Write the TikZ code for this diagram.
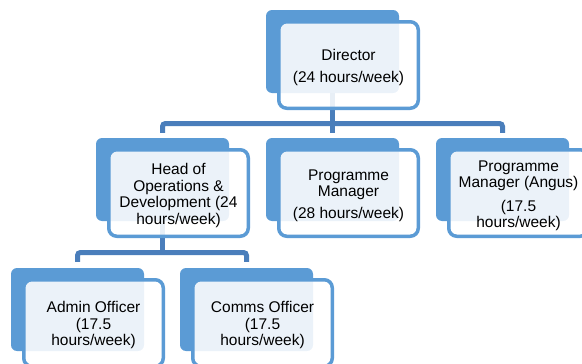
\documentclass[tikz,border=0pt]{standalone}
\usepackage{fontspec}
\setmainfont{Liberation Sans}
\definecolor{boxblue}{HTML}{5B9BD5}
\definecolor{connblue}{HTML}{4A7EBB}
\newcommand{\boxtext}[1]{\raisebox{-3pt}[\height][\depth]{\begin{tabular}{@{}c@{}}#1\end{tabular}}}
\tikzset{
  backbox/.style={rectangle, draw=none, fill=boxblue, rounded corners=6pt,
    minimum width=133pt, minimum height=83pt, inner sep=0pt},
  frontbox/.style={rectangle, draw=boxblue, line width=3.5pt, fill=white,
    fill opacity=0.88, text opacity=1, rounded corners=8pt,
    minimum width=139.5pt, minimum height=86.5pt, inner sep=0pt,
    font=\fontsize{15.5}{16.5}\selectfont},
  conn/.style={draw=connblue, line width=5pt}
}
\begin{document}
\begin{tikzpicture}[x=1pt,y=-1pt]
\useasboundingbox (0,0) rectangle (582,364);
% back boxes
\node[backbox] (dirB)  at (332.5,51.5) {};
\node[backbox] (headB) at (162.5,179.5) {};
\node[backbox] (pmB)   at (332.5,179.5) {};
\node[backbox] (angB)  at (502.5,179.5) {};
\node[backbox] (admB)  at (77.5,309.5) {};
\node[backbox] (comB)  at (246.5,309.5) {};
% connectors
\coordinate (h1) at (332.5,123.5);
\coordinate (h2) at (162.5,252.5);
\draw[conn] (dirB.south) -- ([yshift=5pt]pmB.north);
\draw[conn, rounded corners=3pt] ([yshift=5pt]headB.north) |- (h1) -| ([yshift=5pt]angB.north);
\draw[conn] (headB.south) -- (h2);
\draw[conn, rounded corners=3pt] ([yshift=6pt]admB.north) |- (h2) -| ([yshift=6pt]comB.north);
% front boxes
\node[frontbox] (dirF)  at (348.5,65) {\boxtext{Director\\[5.5pt](24 hours/week)}};
\node[frontbox] (headF) at (178.5,193) {\boxtext{Head of\\Operations \&\\Development (24\\hours/week)}};
\node[frontbox] (pmF)   at (348.5,193) {\boxtext{Programme\\Manager\\[5.5pt](28 hours/week)}};
\node[frontbox] (angF)  at (518.5,193) {\boxtext{Programme\\Manager (Angus)\\[7pt](17.5\\hours/week)}};
\node[frontbox] (admF)  at (93.5,323) {\boxtext{Admin Officer\\(17.5\\hours/week)}};
\node[frontbox] (comF)  at (262.5,323) {\boxtext{Comms Officer\\(17.5\\hours/week)}};
\end{tikzpicture}
\end{document}
